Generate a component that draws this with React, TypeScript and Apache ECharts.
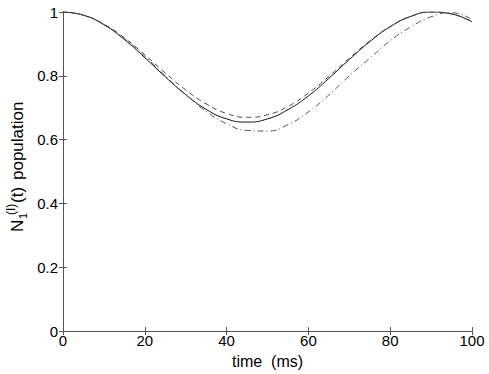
import React, { useEffect, useRef } from "react";
import * as echarts from "echarts";

const times = [0, 5, 10, 15, 20, 25, 30, 35, 40, 45, 50, 55, 60, 65, 70, 75, 80, 85, 90, 95, 100];
const solidValues = [1, 0.99, 0.96, 0.914, 0.857, 0.797, 0.741, 0.695, 0.665, 0.655, 0.665, 0.694, 0.737, 0.792, 0.851, 0.907, 0.954, 0.986, 1.0, 0.994, 0.969];
const dashedValues = [1, 0.99, 0.962, 0.919, 0.866, 0.809, 0.756, 0.712, 0.682, 0.67, 0.678, 0.704, 0.746, 0.798, 0.855, 0.909, 0.954, 0.986, 1.0, 0.994, 0.97];
const dashDotValues = [1, 0.99, 0.961, 0.917, 0.861, 0.8, 0.741, 0.689, 0.65, 0.629, 0.627, 0.647, 0.687, 0.74, 0.8, 0.855, 0.91, 0.953, 0.985, 0.998, 0.976];
const xTicks = [0, 20, 40, 60, 80, 100];
const yTicks = [0, 0.2, 0.4, 0.6, 0.8, 1];

const FONT = "'Liberation Sans', Arial, Helvetica, sans-serif";
const AXIS_COLOR = "#555";

export default function App() {
  const ref = useRef<HTMLDivElement>(null);
  useEffect(() => {
    if (!ref.current) return;
    const chart = echarts.init(ref.current, undefined, { renderer: "svg" });
    const pairs = (vals: number[]) => times.map((t, i) => [t, vals[i]]);
    const xBase = {
      type: "value" as const,
      min: xTicks[0],
      max: xTicks[xTicks.length - 1],
      interval: 20,
      splitLine: { show: false },
      axisLine: { show: true, lineStyle: { color: AXIS_COLOR, width: 1 } },
      axisTick: { show: true, inside: true, length: 4, lineStyle: { color: AXIS_COLOR } },
    };
    const yBase = {
      type: "value" as const,
      min: yTicks[0],
      max: yTicks[yTicks.length - 1],
      interval: 0.2,
      splitLine: { show: false },
      axisLine: { show: true, lineStyle: { color: AXIS_COLOR, width: 1 } },
      axisTick: { show: true, inside: true, length: 4, lineStyle: { color: AXIS_COLOR } },
    };
    const labelStyle = { color: "#000", fontFamily: FONT, fontSize: 15 };
    const txt = (text: string, x: number, y: number, size: number) => ({
      type: "text",
      x,
      y,
      style: { text, fontSize: size, fontFamily: FONT, fill: "#000", verticalAlign: "middle", align: "left" },
    });
    chart.setOption({
      animation: false,
      backgroundColor: "#fff",
      grid: { left: 63, right: 17, top: 12, bottom: 39, containLabel: false },
      xAxis: [
        {
          ...xBase,
          position: "bottom",
          axisLabel: { ...labelStyle, margin: 2 },
          name: "time  (ms)",
          nameLocation: "middle",
          nameGap: 15,
          nameTextStyle: { color: "#000", fontFamily: FONT, fontSize: 16 },
        },
        { ...xBase, position: "top", axisLabel: { show: false } },
      ],
      yAxis: [
        {
          ...yBase,
          position: "left",
          axisLabel: { ...labelStyle, margin: 5 },
        },
        { ...yBase, position: "right", axisLabel: { show: false } },
      ],
      series: [
        {
          type: "line",
          data: pairs(solidValues),
          smooth: true,
          showSymbol: false,
          lineStyle: { color: "#111", width: 1, type: "solid" },
        },
        {
          type: "line",
          data: pairs(dashedValues),
          smooth: true,
          showSymbol: false,
          lineStyle: { color: "#444", width: 1, type: [5, 4] },
        },
        {
          type: "line",
          data: pairs(dashDotValues),
          smooth: true,
          showSymbol: false,
          lineStyle: { color: "#555", width: 1, type: [6, 3, 1, 3] },
        },
      ],
      graphic: [
        {
          type: "group",
          x: 17.5,
          y: 168,
          rotation: Math.PI / 2,
          children: [
            txt("N", -64, 0, 17),
            txt("1", -51, 5, 11),
            txt("(I)", -47, -7, 12),
            txt("(t)", -35, 0, 17),
            txt("population", -12, 0, 17),
          ],
        },
      ],
    });
    return () => chart.dispose();
  }, []);
  return <div ref={ref} style={{ width: 489, height: 374, position: "absolute", left: 0, top: 0 }} />;
}
